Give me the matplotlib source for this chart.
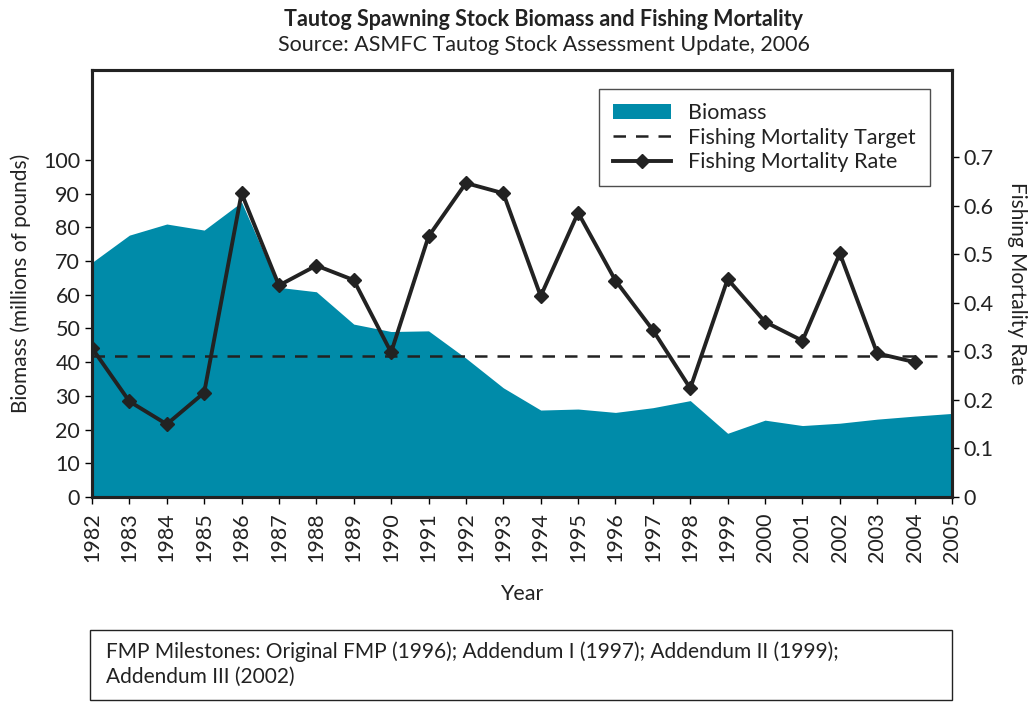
import matplotlib.pyplot as plt
from matplotlib.patches import Patch, Rectangle
from matplotlib.lines import Line2D
import numpy as np

plt.rcParams['font.family'] = ['Lato', 'DejaVu Sans']

# Datos
anios = list(range(1982, 2006))
biomasa = [69.6, 77.7, 81.0, 79.2, 87.5, 62.2, 60.9, 51.3, 49.1, 49.3, 41.2, 32.4,
           25.8, 26.1, 25.1, 26.5, 28.6, 18.9, 22.8, 21.2, 21.9, 23.1, 24.0, 24.8]
anios_f = list(range(1982, 2005))
mortalidad = [0.307, 0.197, 0.150, 0.215, 0.626, 0.436, 0.477, 0.447, 0.298, 0.537,
              0.647, 0.626, 0.414, 0.586, 0.446, 0.344, 0.224, 0.449, 0.361, 0.322,
              0.502, 0.296, 0.278]
objetivo_f = 0.29

color_biomasa = '#008ba9'
negro = '#222222'

fig = plt.figure(figsize=(10.36, 7.02), dpi=100)
ax = fig.add_axes([92 / 1036, 1 - 497 / 702, 860 / 1036, 427 / 702])
ax2 = ax.twinx()

# Biomasa como area
ax.fill_between(anios, biomasa, 0, color=color_biomasa, linewidth=0)
ax.set_xlim(1982, 2005)
ax.set_ylim(0, 126.7)
ax.set_yticks(range(0, 101, 10))
ax.set_xticks(anios)
ax.set_xticklabels([str(a) for a in anios], rotation=90, fontsize=15.5, color=negro)
ax.tick_params(axis='y', labelsize=15.5, labelcolor=negro, direction='out', length=5, width=1)
ax.tick_params(axis='x', direction='out', length=5, width=1, pad=6)
ax.set_ylabel('Biomass (millions of pounds)', fontsize=15, color=negro, labelpad=9)
ax.set_xlabel('Year', fontsize=15.5, color=negro, labelpad=16)

# Mortalidad por pesca
ax2.axhline(objetivo_f, color=negro, linestyle=(0, (5, 4)), linewidth=1.8)
ax2.plot(anios_f, mortalidad, '-D', color=negro, linewidth=2.8, markersize=7)
ax2.set_ylim(0, 0.88)
ax2.set_yticks(np.arange(0, 0.71, 0.1))
ax2.set_yticklabels(['0', '0.1', '0.2', '0.3', '0.4', '0.5', '0.6', '0.7'])
ax2.tick_params(axis='y', labelsize=15.5, labelcolor=negro, direction='out', length=5, width=1)
ax2.set_ylabel('Fishing Mortality Rate', fontsize=15, color=negro, rotation=270, labelpad=24)

for a in (ax, ax2):
    for s in a.spines.values():
        s.set_linewidth(2.2)
        s.set_color(negro)

# Leyenda
handles = [Patch(facecolor=color_biomasa, edgecolor='none'),
           Line2D([], [], color=negro, linestyle=(0, (5, 4)), linewidth=1.8),
           Line2D([], [], color=negro, marker='D', linewidth=2.8, markersize=7)]
etiquetas = ['Biomass', 'Fishing Mortality Target', 'Fishing Mortality Rate']
leg = ax2.legend(handles, etiquetas, loc='upper right', bbox_to_anchor=(0.9744, 0.9555),
                 borderaxespad=0, fontsize=15.5, frameon=True, fancybox=False,
                 handlelength=2.7, borderpad=0.65, labelspacing=0.22, handletextpad=0.8)
leg.get_frame().set_edgecolor(negro)
leg.get_frame().set_linewidth(1.0)
for t in leg.get_texts():
    t.set_color(negro)

# Titulos
fig.text(0.525, 1 - 20 / 702, 'Tautog Spawning Stock Biomass and Fishing Mortality',
         ha='center', va='center', fontsize=15.5, fontweight='bold', color=negro)
fig.text(0.525, 1 - 45 / 702, 'Source: ASMFC Tautog Stock Assessment Update, 2006',
         ha='center', va='center', fontsize=15.5, color=negro)

# Caja de hitos
fig.patches.append(Rectangle((90 / 1036, 1 - 700 / 702), 862 / 1036, 70 / 702,
                             transform=fig.transFigure, fill=False,
                             edgecolor=negro, linewidth=1.0))
fig.text(106 / 1036, 1 - 664 / 702,
         'FMP Milestones: Original FMP (1996); Addendum I (1997); Addendum II (1999);\nAddendum III (2002)',
         ha='left', va='center', fontsize=15, color=negro, linespacing=1.3)

fig.savefig('out.png', dpi=100)
